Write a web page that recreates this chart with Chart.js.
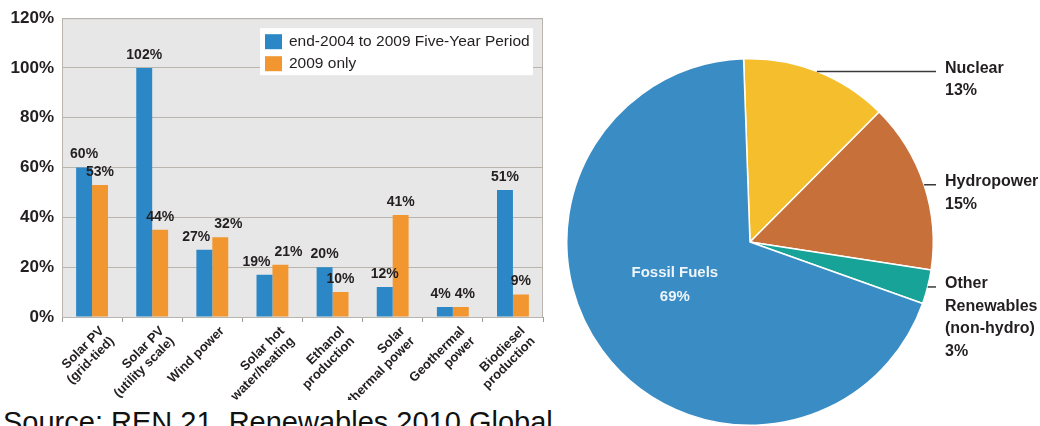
<!DOCTYPE html>
<html>
<head>
<meta charset="utf-8">
<script src="https://cdn.jsdelivr.net/npm/chart.js@4.4.1/dist/chart.umd.min.js"></script>
<style>
  html, body { margin: 0; padding: 0; background: #ffffff; }
  body { width: 1040px; height: 426px; position: relative; overflow: hidden; }
  #barWrap { position: absolute; left: 0; top: 0; width: 560px; height: 400px; }
  #pieWrap { position: absolute; left: 560px; top: 0; width: 480px; height: 426px; }
  #source { position: absolute; left: 3px; top: 408px; font-family: 'Liberation Sans', Arial, sans-serif;
            font-size: 29px; line-height: 1; color: #111; white-space: nowrap; }
</style>
</head>
<body>
<div id="barWrap"><canvas id="bar"></canvas></div>
<div id="pieWrap"><canvas id="pie"></canvas></div>
<div id="source">Source: REN 21. Renewables 2010 Global</div>
<script>
// ---------- data ----------
const categories = [
  ['Solar PV', '(grid-tied)'],
  ['Solar PV', '(utility scale)'],
  'Wind power',
  ['Solar hot', 'water/heating'],
  ['Ethanol', 'production'],
  ['Solar', 'thermal power'],
  ['Geothermal', 'power'],
  ['Biodiesel', 'production']
];
const seriesNames = ['end-2004 to 2009 Five-Year Period', '2009 only'];
const fiveYearValues = [60, 100, 27, 17, 20, 12, 4, 51];
const oneYearValues  = [53, 35, 32, 21, 10, 41, 4, 9];
const fiveYearLabels = ['60%', '102%', '27%', '19%', '20%', '12%', '4%', '51%'];
const oneYearLabels  = ['53%', '44%', '32%', '21%', '10%', '41%', '4%', '9%'];
const yTicks = [0, 20, 40, 60, 80, 100, 120];

const pieLabels = [['Nuclear', '13%'], ['Hydropower', '15%'], ['Other', 'Renewables', '(non-hydro)', '3%'], ['Fossil Fuels', '69%']];
const pieValues = [13, 15, 3, 69];

// ---------- styles ----------
const FONT = "'Liberation Sans', Arial, sans-serif";
const TEXT = '#231f20';
const BLUE = '#2b87c6';
const ORANGE = '#f2972f';
const pieColors = ['#f4be2d', '#c7703a', '#17a397', '#3a8dc4'];

// ---------- bar chart ----------
const barDecor = {
  id: 'barDecor',
  beforeDraw(chart) {
    const { ctx, chartArea: a } = chart;
    ctx.save();
    ctx.fillStyle = '#e7e7e7';
    ctx.fillRect(a.left, a.top, a.right - a.left, a.bottom - a.top);
    ctx.restore();
  },
  afterDraw(chart) {
    const { ctx, chartArea: a } = chart;
    ctx.save();
    // frame
    ctx.strokeStyle = '#b9b4ae';
    ctx.lineWidth = 1;
    ctx.strokeRect(a.left + 0.5, a.top + 0.5, a.right - a.left - 1, a.bottom - a.top);
    // value labels (pushed apart when a pair would collide)
    ctx.font = 'bold 14px ' + FONT;
    ctx.fillStyle = TEXT;
    ctx.textAlign = 'center';
    ctx.textBaseline = 'bottom';
    const m0 = chart.getDatasetMeta(0).data, m1 = chart.getDatasetMeta(1).data;
    const h = 14, gap = 4;
    m0.forEach((b0, i) => {
      const b1 = m1[i];
      const t0 = fiveYearLabels[i], t1 = oneYearLabels[i];
      let x0 = b0.x, x1 = b1.x;
      const y0 = b0.y - 6, y1 = b1.y - 6;
      const w0 = ctx.measureText(t0).width, w1 = ctx.measureText(t1).width;
      if (Math.abs(y0 - y1) < h) {
        const need = (w0 + w1) / 2 + gap - (x1 - x0);
        if (need > 0) { x0 -= need / 2; x1 += need / 2; }
      }
      ctx.fillText(t0, x0, y0);
      ctx.fillText(t1, x1, y1);
    });
    // legend box
    const lx = a.right - 283, ly = a.top + 10, lw = 273, lh = 47;
    ctx.fillStyle = '#ffffff';
    ctx.fillRect(lx, ly, lw, lh);
    ctx.font = '15.5px ' + FONT;
    ctx.textAlign = 'left';
    ctx.textBaseline = 'middle';
    chart.data.datasets.forEach((ds, di) => {
      const sy = ly + 6 + di * 22;
      ctx.fillStyle = ds.backgroundColor;
      ctx.fillRect(lx + 5, sy, 17, 15);
      ctx.fillStyle = TEXT;
      ctx.fillText(ds.label, lx + 29, sy + 8);
    });
    ctx.restore();
  }
};

new Chart(document.getElementById('bar'), {
  type: 'bar',
  data: {
    labels: categories,
    datasets: [
      { label: seriesNames[0], data: fiveYearValues, backgroundColor: BLUE },
      { label: seriesNames[1], data: oneYearValues, backgroundColor: ORANGE }
    ]
  },
  options: {
    responsive: true,
    maintainAspectRatio: false,
    animation: false,
    events: [],
    categoryPercentage: 0.53,
    barPercentage: 1.0,
    layout: { padding: { left: 0, right: 17, top: 17, bottom: 0 } },
    plugins: { legend: { display: false }, tooltip: { enabled: false } },
    scales: {
      y: {
        min: 0, max: 120,
        afterBuildTicks(scale) { scale.ticks = yTicks.map(v => ({ value: v })); },
        afterFit(scale) { scale.width = 62; },
        ticks: {
          callback: v => v + '%',
          font: { family: FONT, size: 17, weight: 'bold' },
          color: TEXT,
          padding: 8
        },
        grid: { color: '#b9b4ae', drawTicks: false, lineWidth: 1 },
        border: { display: false }
      },
      x: {
        afterFit(scale) { scale.height = 83; },
        ticks: {
          maxRotation: 45, minRotation: 45,
          font: { family: FONT, size: 13, weight: 'bold', lineHeight: 1.1 },
          color: TEXT,
          padding: 2,
          labelOffset: 10,
          autoSkip: false
        },
        grid: { drawOnChartArea: false, drawTicks: true, tickLength: 5, color: '#9a9a9a', offset: true },
        border: { display: true, color: '#9a9a9a' }
      }
    }
  },
  plugins: [barDecor]
});

// ---------- pie chart ----------
const pieDecor = {
  id: 'pieDecor',
  afterDraw(chart) {
    const { ctx } = chart;
    const arcs = chart.getDatasetMeta(0).data;
    const labelX = 385;
    ctx.save();
    arcs.forEach((arc, i) => {
      const p = arc.getProps(['x', 'y', 'startAngle', 'endAngle', 'outerRadius']);
      const lines = pieLabels[i];
      if (i < 3) {
        const mid = (p.startAngle + p.endAngle) / 2;
        const px = p.x + p.outerRadius * Math.cos(mid);
        const py = p.y + p.outerRadius * Math.sin(mid);
        ctx.strokeStyle = '#3a3a3a';
        ctx.lineWidth = 1.5;
        ctx.beginPath();
        ctx.moveTo(px, py);
        ctx.lineTo(labelX - 9, py);
        ctx.stroke();
        ctx.font = 'bold 16px ' + FONT;
        ctx.fillStyle = TEXT;
        ctx.textAlign = 'left';
        ctx.textBaseline = 'middle';
        lines.forEach((t, k) => ctx.fillText(t, labelX, py - 3 + k * 22.5));
      } else {
        const cx = p.x - 0.41 * p.outerRadius;
        const cy = p.y + 0.17 * p.outerRadius;
        ctx.font = 'bold 15px ' + FONT;
        ctx.fillStyle = '#eef4fa';
        ctx.textAlign = 'center';
        ctx.textBaseline = 'middle';
        lines.forEach((t, k) => ctx.fillText(t, cx, cy + k * 24));
      }
    });
    ctx.restore();
  }
};

new Chart(document.getElementById('pie'), {
  type: 'pie',
  data: {
    labels: pieLabels.map(l => l.slice(0, -1).join(' ')),
    datasets: [{
      data: pieValues,
      backgroundColor: pieColors,
      borderColor: '#ffffff',
      borderWidth: 1.5
    }]
  },
  options: {
    responsive: true,
    maintainAspectRatio: false,
    animation: false,
    events: [],
    rotation: -2,
    layout: { padding: { left: 6, right: 106, top: 58, bottom: 0 } },
    plugins: { legend: { display: false }, tooltip: { enabled: false } }
  },
  plugins: [pieDecor]
});
</script>
</body>
</html>
